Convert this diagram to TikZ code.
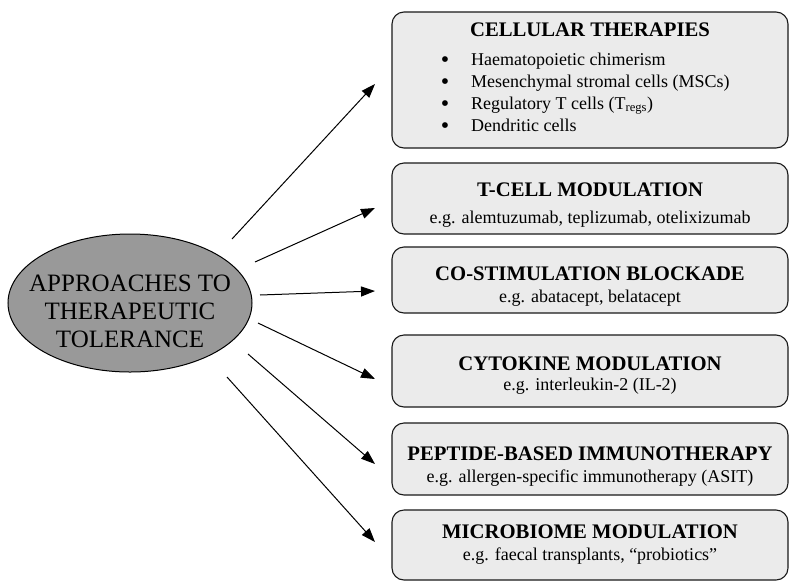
\documentclass[tikz,border=0pt]{standalone}
\usepackage{fontspec}
\setmainfont{Liberation Serif}
\usetikzlibrary{arrows.meta,shapes.geometric}
\definecolor{boxgray}{HTML}{EBEBEB}
\definecolor{ellgray}{HTML}{999999}
\begin{document}
\begin{tikzpicture}[x=1pt,y=-1pt,
  box/.style={draw=black!90, line width=1.1pt, rounded corners=12pt, fill=boxgray, minimum width=396pt, inner sep=0pt},
  ttl/.style={anchor=base, inner sep=0pt, font=\fontsize{20.7}{24}\selectfont\bfseries},
  sub/.style={anchor=base, inner sep=0pt, font=\fontsize{18}{22}\selectfont},
  itm/.style={anchor=base west, inner sep=0pt, font=\fontsize{18}{22}\selectfont},
  bul/.style={anchor=base, inner sep=0pt, font=\fontsize{24}{22}\selectfont},
  arr/.style={-{Triangle[length=14pt,width=10pt]}, line width=1pt}]
\useasboundingbox (0,0) rectangle (800,587);
% central ellipse
\node[ellipse, draw, line width=1pt, fill=ellgray, minimum width=244pt, minimum height=138pt, inner sep=0pt] (ell) at (130,303) {};
\node[align=center, inner sep=0pt, font=\fontsize{25}{28}\selectfont] (ellt) at (130,311) {APPROACHES TO\\THERAPEUTIC\\TOLERANCE};
% boxes
\node[box, minimum height=136pt] (b1) at (590,80) {};
\node[box, minimum height=71pt] (b2) at (590,198.5) {};
\node[box, minimum height=66pt] (b3) at (590,280) {};
\node[box, minimum height=72pt] (b4) at (590,371) {};
\node[box, minimum height=72pt] (b5) at (590,459) {};
\node[box, minimum height=70pt] (b6) at (590,545) {};
% box 1 text
\node[ttl] (t1) at (590,36) {CELLULAR THERAPIES};
\node[bul] (p1) at (445,67) {•};
\node[bul] (p2) at (445,89) {•};
\node[bul] (p3) at (445,111) {•};
\node[bul] (p4) at (445,133) {•};
\node[itm] (i1) at (471,65) {Haematopoietic chimerism};
\node[itm] (i2) at (471,87) {Mesenchymal stromal cells (MSCs)};
\node[itm] (i3) at (471,109) {Regulatory T cells (T\textsubscript{regs})};
\node[itm] (i4) at (471,131) {Dendritic cells};
% other boxes
\node[ttl] (t2) at (590,196) {T-CELL MODULATION};
\node[sub] (s2) at (590,223) {e.g. alemtuzumab, teplizumab, otelixizumab};
\node[ttl] (t3) at (590,280) {CO-STIMULATION BLOCKADE};
\node[sub] (s3) at (590,302) {e.g. abatacept, belatacept};
\node[ttl] (t4) at (590,370) {CYTOKINE MODULATION};
\node[sub] (s4) at (590,390) {e.g. interleukin-2 (IL-2)};
\node[ttl] (t5) at (590,460) {PEPTIDE-BASED IMMUNOTHERAPY};
\node[sub] (s5) at (590,482) {e.g. allergen-specific immunotherapy (ASIT)};
\node[ttl] (t6) at (590,538) {MICROBIOME MODULATION};
\node[sub] (s6) at (590,560) {e.g. faecal transplants, “probiotics”};
% arrows
\coordinate (a1s) at (232,239); \coordinate (a1e) at (375,84);
\coordinate (a2s) at (255,262); \coordinate (a2e) at (375,208);
\coordinate (a3s) at (260,295); \coordinate (a3e) at (375,291);
\coordinate (a4s) at (258,323); \coordinate (a4e) at (375,379);
\coordinate (a5s) at (248,354); \coordinate (a5e) at (375,464);
\coordinate (a6s) at (227,377); \coordinate (a6e) at (375,542);
\draw[arr] (a1s) -- (a1e);
\draw[arr] (a2s) -- (a2e);
\draw[arr] (a3s) -- (a3e);
\draw[arr] (a4s) -- (a4e);
\draw[arr] (a5s) -- (a5e);
\draw[arr] (a6s) -- (a6e);
\end{tikzpicture}
\end{document}
